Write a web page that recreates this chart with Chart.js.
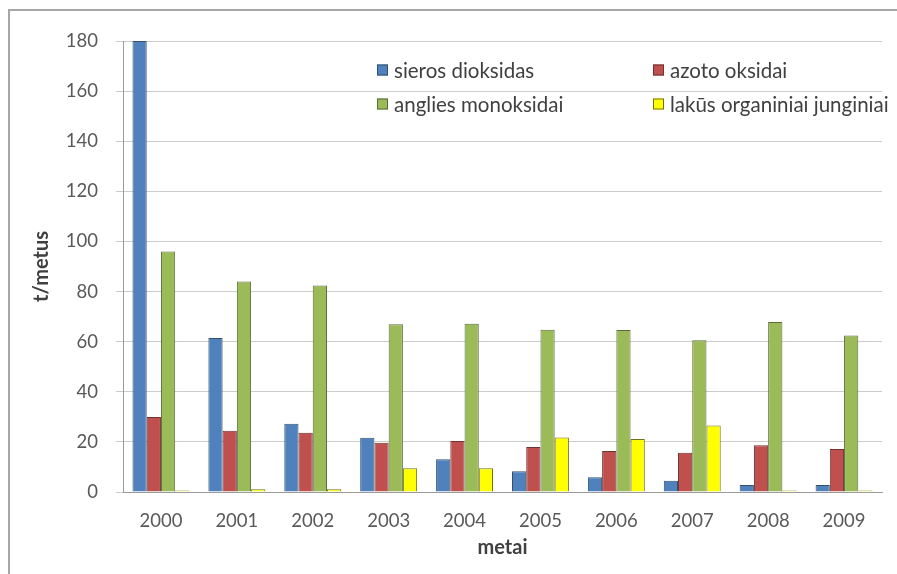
<!DOCTYPE html>
<html>
<head>
<meta charset="utf-8">
<script src="https://cdn.jsdelivr.net/npm/chart.js@4/dist/chart.umd.min.js"></script>
<style>
  body { margin: 0; background: #fff; }
  #wrap { width: 897px; height: 574px; position: relative; }
</style>
</head>
<body>
<div id="wrap"><canvas id="emissionChart" width="897" height="574"></canvas></div>
<script>
// metai
const years = ['2000', '2001', '2002', '2003', '2004', '2005', '2006', '2007', '2008', '2009'];
const seriesNames = ['sieros dioksidas', 'azoto oksidai', 'anglies monoksidai', 'lakūs organiniai junginiai'];
// t/metus
const sierosDioksidas = [180, 61.5, 27.2, 21.7, 13.1, 8.3, 5.9, 4.5, 2.8, 2.8];
const azotoOksidai = [29.9, 24.4, 23.6, 19.7, 20.4, 18.0, 16.4, 15.7, 18.7, 17.2];
const angliesMonoksidai = [96, 84, 82.4, 67, 67.2, 64.8, 64.7, 60.6, 67.8, 62.5];
const lakusOrganiniai = [0.6, 1.1, 1.1, 9.5, 9.5, 21.8, 21.2, 26.5, 0.6, 0.6];
const yTicks = [0, 20, 40, 60, 80, 100, 120, 140, 160, 180];

const colors = ['#4F81BD', '#C0504D', '#9BBB59', '#FFFF00'];
const borders = ['#34506f', '#6e3331', '#5a6d38', '#70701c'];
const FONT = 'Lato, "Open Sans", sans-serif';

// rėmelis aplink diagramą (tik viršus ir kairė matomi)
const framePlugin = {
    id: 'frame',
    beforeDraw(chart) {
        const c = chart.ctx;
        c.save();
        c.strokeStyle = '#a6a6a6';
        c.lineWidth = 2;
        c.beginPath();
        c.moveTo(9, 574);
        c.lineTo(9, 10);
        c.lineTo(897, 10);
        c.stroke();
        c.restore();
    }
};

// legenda 2x2 kaip Excel'yje
const gridLegend = {
    id: 'gridLegend',
    afterDatasetsDraw(chart) {
        const c = chart.ctx;
        const cols = [377, 653];
        const rows = [70, 104];
        c.save();
        c.font = '20.5px ' + FONT;
        c.textBaseline = 'middle';
        chart.data.datasets.forEach((ds, i) => {
            const x = cols[i % 2];
            const y = rows[Math.floor(i / 2)];
            c.fillStyle = ds.backgroundColor;
            c.fillRect(x, y - 5.5, 11, 11);
            c.strokeStyle = ds.borderColor;
            c.lineWidth = 1;
            c.strokeRect(x + 0.5, y - 5, 10, 10);
            c.fillStyle = '#404040';
            c.fillText(ds.label, x + 17, y + 1);
        });
        c.restore();
    }
};

const seriesData = [sierosDioksidas, azotoOksidai, angliesMonoksidai, lakusOrganiniai];

new Chart(document.getElementById('emissionChart'), {
    type: 'bar',
    data: {
        labels: years,
        datasets: seriesData.map((vals, i) => ({
            label: seriesNames[i],
            data: vals,
            backgroundColor: colors[i],
            borderColor: borders[i],
            borderWidth: 1,
            borderSkipped: 'bottom',
            barPercentage: 1.0,
            categoryPercentage: 0.75
        }))
    },
    options: {
        responsive: false,
        animation: false,
        layout: {
            padding: { top: 41, right: 15, bottom: 0, left: 0 }
        },
        plugins: {
            legend: { display: false },
            tooltip: { enabled: false }
        },
        scales: {
            x: {
                afterFit: s => { s.height = 82; },
                grid: { display: false, drawTicks: false },
                border: { display: true, color: '#9a9a9a', width: 1 },
                ticks: {
                    color: '#595959',
                    font: { family: FONT, size: 18.5 },
                    padding: 18
                },
                title: {
                    display: true,
                    text: 'metai',
                    color: '#404040',
                    font: { family: FONT, size: 20, weight: 'bold' },
                    padding: { top: 0, bottom: 14 }
                }
            },
            y: {
                min: 0,
                max: 180,
                afterFit: s => { s.width = 123; },
                afterBuildTicks: s => { s.ticks = yTicks.map(v => ({ value: v })); },
                grid: {
                    color: '#cccccc',
                    lineWidth: 1,
                    tickLength: 7,
                    drawTicks: true
                },
                border: { display: true, color: '#9a9a9a', width: 1 },
                ticks: {
                    color: '#595959',
                    font: { family: FONT, size: 18.5 },
                    padding: 18
                },
                title: {
                    display: true,
                    text: 't/metus',
                    color: '#404040',
                    font: { family: FONT, size: 20, weight: 'bold' },
                    padding: { top: 30, bottom: 0 }
                }
            }
        }
    },
    plugins: [framePlugin, gridLegend]
});
</script>
</body>
</html>
